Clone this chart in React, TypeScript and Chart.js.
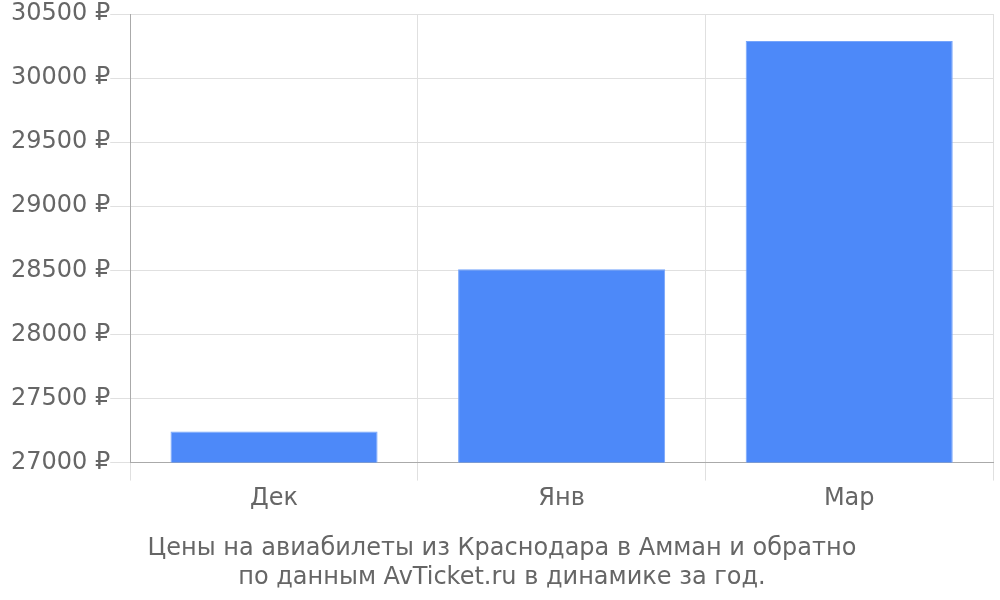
import { useEffect, useRef } from "react";
import Chart from "chart.js/auto";

const months = ["Дек", "Янв", "Мар"];
const prices = [27242, 28508, 30289];
const titleLines = [
  "Цены на авиабилеты из Краснодара в Амман и обратно",
  "по данным AvTicket.ru в динамике за год.",
];

const App = () => {
  const canvasRef = useRef<HTMLCanvasElement>(null);

  useEffect(() => {
    document.body.style.margin = "0";
    if (!canvasRef.current) return;
    const ctx = canvasRef.current.getContext("2d");
    if (!ctx) return;

    const chart = new Chart(ctx, {
      type: "bar",
      data: {
        labels: months,
        datasets: [
          {
            data: prices,
            backgroundColor: "#4d89f9",
            borderColor: "#76a5fb",
            borderWidth: 1,
          },
        ],
      },
      options: {
        responsive: false,
        animation: false,
        layout: { padding: { top: 14, right: 7, left: 11, bottom: 0 } },
        font: { family: "DejaVu Sans" },
        plugins: {
          legend: { display: false },
          tooltip: { enabled: false },
          title: {
            display: true,
            position: "bottom",
            text: titleLines,
            color: "#666",
            font: { family: "DejaVu Sans", size: 24, weight: "normal" },
            padding: { top: 17, bottom: 8 },
            lineHeight: 1.17,
          },
        },
        scales: {
          x: {
            grid: { color: "#e0e0e0", tickLength: 18 },
            border: { color: "#aaa" },
            ticks: {
              color: "#666",
              font: { family: "DejaVu Sans", size: 24 },
              padding: 4,
            },
          },
          y: {
            min: 27000,
            max: 30500,
            grid: { color: "#e0e0e0", tickLength: 20 },
            border: { color: "#aaa" },
            ticks: {
              stepSize: 500,
              color: "#666",
              font: { family: "DejaVu Sans", size: 24, lineHeight: 1 },
              padding: 0,
              callback: (v) => `${v} ₽`,
            },
          },
        },
      },
    });

    return () => {
      chart.destroy();
    };
  }, []);

  return <canvas ref={canvasRef} width={1000} height={600}></canvas>;
};

export default App;
